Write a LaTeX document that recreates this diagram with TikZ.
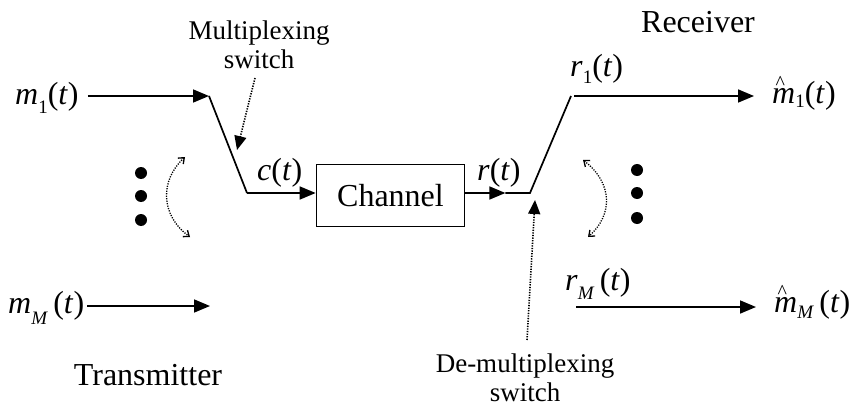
\documentclass[tikz,border=0pt]{standalone}
\usepackage{fontspec}
\setmainfont{Liberation Serif}
\usetikzlibrary{arrows.meta}

% lowered subscript for signal names
\newcommand\lowsub[2][-0.28em]{\raisebox{#1}{\fontsize{19}{19}\selectfont #2}}
% estimate mark set above the following letter
\newcommand\hatmark{\rlap{\hspace{3.5pt}\raisebox{14pt}{\fontsize{20}{20}\selectfont\textasciicircum}}}

\begin{document}
\begin{tikzpicture}[x=1pt,y=-1pt,
  wire/.style={line width=1.7pt},
  flow/.style={wire,-{Triangle[length=16pt,width=13pt]}},
  pointer/.style={line width=1.6pt,dash pattern=on 1.3pt off 1.3pt,
    -{Triangle[length=14pt,width=12pt]}},
  swing/.style={line width=1.3pt,dash pattern=on 1.2pt off 1.3pt,
    {Straight Barb[length=5pt,width=8pt]}-{Straight Barb[length=5pt,width=8pt]}},
  big/.style={font=\fontsize{32}{36}\selectfont},
  small/.style={font=\fontsize{27}{29}\selectfont,align=center},
  lbl/.style={inner sep=0pt,anchor=base west},
  dot/.style={circle,fill=black,inner sep=0pt,minimum size=12pt},
]
\useasboundingbox (0,0) rectangle (858,406);

% switch contacts and pivots
\coordinate (muxin) at (209,96);
\coordinate (muxout) at (247,193);
\coordinate (muxM) at (210,306);
\coordinate (demuxin) at (530,193);
\coordinate (demuxout) at (571,96);
\coordinate (demuxM) at (576,307);
\coordinate (out1) at (754,96);
\coordinate (outM) at (756,307);

% channel block
\node[draw,line width=1.7pt,minimum width=148pt,minimum height=62pt,
      inner sep=0pt,big] (ch) at (390.5,195.5) {Channel};

% signal labels
\node[lbl,big] (m1) at (15,105) {\textit{m}\lowsub{1}(\textit{t})};
\node[lbl,big] (mM) at (8,313) {\textit{m}\lowsub[-0.36em]{\textit{M}}\,(\textit{t})};
\node[lbl,big] (c) at (257,180) {\textit{c}(\textit{t})};
\node[lbl,big] (r) at (477,180) {\textit{r}(\textit{t})};
\node[lbl,big] (r1) at (570,77) {\textit{r}\lowsub[-0.2em]{1}(\textit{t})};
\node[lbl,big] (rM) at (565,290) {\textit{r}\lowsub[-0.3em]{\textit{M}}\,(\textit{t})};
\node[lbl,big] (mh1) at (772,104) {\hatmark\textit{m}\lowsub[-0.12em]{1}(\textit{t})};
\node[lbl,big] (mhM) at (774,312) {\hatmark\textit{m}\lowsub[-0.2em]{\textit{M}}\,(\textit{t})};

% block titles and switch captions
\node[big,inner sep=0pt,anchor=base] (tx) at (148,385) {Transmitter};
\node[big,inner sep=0pt,anchor=base] (rx) at (698,33) {Receiver};
\node[small,inner sep=0pt,anchor=base] (muxlbl) at (259,69) {Multiplexing\\switch};
\node[small,inner sep=0pt,anchor=base] (demuxlbl) at (525,401) {De-multiplexing\\switch};

% transmitter side
\draw[flow] (m1.east |- muxin) ++(9,0) coordinate (m1s) -- (muxin);
\draw[flow] (mM.east |- muxM) ++(3,0) coordinate (mMs) -- (muxM);
\draw[wire] (muxin) -- (muxout);
\draw[flow] (muxout) -- (ch.west |- muxout);

% receiver side
\draw[flow] (ch.east |- demuxin) -- ++(40,0) coordinate (rtip);
\draw[wire] (rtip) -- (demuxin) -- (demuxout);
\draw[flow] (demuxout) ++(3,0) coordinate (r1s) -- (out1);
\draw[flow] (demuxM) -- (outM);

% pointers to the switches
\coordinate (muxptr) at (255,78);
\coordinate (muxtip) at (237,150);
\draw[pointer] (muxptr) -- (muxtip);
\coordinate (demuxptr) at (527,340);
\coordinate (demuxtip) at (535,200);
\draw[pointer] (demuxptr) -- (demuxtip);

% switching motion
\coordinate (sl1) at (185,157);
\coordinate (sl2) at (190,237);
\draw[swing] (sl1) .. controls (160,180) and (160,215) .. (sl2);
\coordinate (sr1) at (583,160);
\coordinate (sr2) at (588,237);
\draw[swing] (sr1) .. controls (613,183) and (613,215) .. (sr2);

% remaining channels
\node[dot] (dl1) at (141,173) {};
\node[dot] (dl2) at (141,196) {};
\node[dot] (dl3) at (141,220) {};
\node[dot] (dr1) at (637,170) {};
\node[dot] (dr2) at (637,193) {};
\node[dot] (dr3) at (637,218) {};
\end{tikzpicture}
\end{document}
